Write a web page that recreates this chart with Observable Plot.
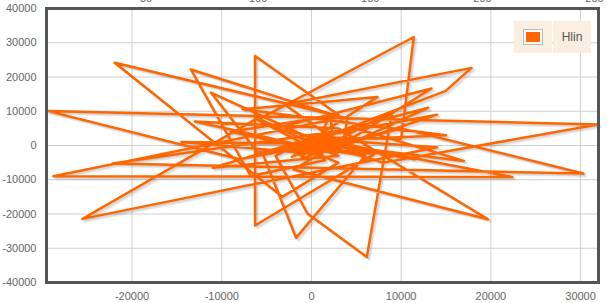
<!DOCTYPE html>
<html>
<head>
<meta charset="utf-8">
<script src="https://cdn.jsdelivr.net/npm/d3@7"></script>
<script src="https://cdn.jsdelivr.net/npm/@observablehq/plot@0.6"></script>
<style>
  html, body { margin: 0; padding: 0; background: #fff; }
  #wrap { position: relative; width: 607px; height: 303px; overflow: hidden; }
  #legend { position: absolute; left: 514px; top: 21px; display: flex; gap: 1px; font-family: "Liberation Sans", Arial, sans-serif; }
  #legend .cell { background: #faeee1; height: 32px; display: flex; align-items: center; justify-content: center; }
  #legend .sw { width: 38px; }
  #legend .lb { width: 38px; font-size: 12px; color: #555; }
  #legend .box { width: 14px; height: 10px; border: 2px solid #fff; outline: 1px solid #bbb; background: #ff6600; box-sizing: content-box; }
</style>
</head>
<body>
<div id="wrap"></div>
<script>
const seriesName = "Hlin";
const xValues = [
  500, 1800, -8000, -29440, 31950, 8000, 2000, -1500, 1200, -14500, 3500, 4000, -21930, -3240, 3000,
  -500, 1800, -2200, 600, 2150, -13450, -6770, 1500, -800, 2600, 13000, 0, -11220, -6000,
  200, 2500, -1000, 3200, -300, 1900, -1700, 2900,
  700, -1800, 2400, 2150, -28770, 22400, 8000, 1000, -2500, -11000, 3000, -6000, -25530, 14000,
  600, -1300, 2200, -600, 3400, 100, 1500,
  300, -1200, 2800, 17000, 5000, -22190, 30320, 10000, 1500, -900, -9000, 3000, -6290, -6290, 7000,
  -2000, 2700, -200, 1100, 2000, -1400,
  800, -5500, -1720, 6000, 2000, 14000, -400, -4000, -450, 6170, 9000, 1200, -1600, -13000, 3000, 19690, -2000,
  3100, 400, -900, 2300, 800, -1900, 1700,
  1000, 2200, -3000, 17840, 14970, -2000, 1600, 11500, -4000, 13380, 2000, -300, -6000, 11410, 10000,
  -100, 2600, 500, 15000, -7690, 7360, -1000, 1400, 300, 2100, -700, 1300
];
const yValues = [
  -600, 800, -4000, 10100, 6130, -5000, -300, 1200, -2600, 1000, 400, 8000, 24170, -15000, -5000,
  -1300, 1400, -3300, 600, 9250, 22190, -8930, -4300, 800, -1400, 11000, 2000, 15470, -2000,
  -900, 1000, 100, -1200, -2500, 2300, -1000, -2100,
  0, -2400, 1200, 7470, -8960, -9170, -2000, -1300, 200, -6500, -3000, 8000, -21430, -500,
  1900, -2900, 300, 1300, -300, -2000, 1800,
  1700, -4000, 0, -4500, 5000, -5260, -8180, 5000, -1100, -500, 4000, 9000, 26160, -23360, -2500,
  -400, -1100, 700, -3000, 2600, -1500,
  1100, -2000, -26980, -3000, -1400, 9000, 2000, -3000, -19850, -32530, 10000, -800, 400, 7000, 5000, -21520, -7000,
  900, -500, 2100, -2400, 400, 900, -1700,
  -2100, 2400, 12000, 22660, 15940, -1000, 200, -4000, 5000, 16640, -2000, -200, 7500, 31680, 2000,
  2400, -700, 1400, 3000, 10600, 14190, 0, 800, -100, 1500, 600, -1200
];
const xTicks = [-20000, -10000, 0, 10000, 20000, 30000];
const yTicks = [-40000, -30000, -20000, -10000, 0, 10000, 20000, 30000, 40000];
const topTickLabels = [50, 100, 150, 200, 250];
const xDomain = [-29540, 32000];
const x2Domain = [5.6, 251.8];
const yDomain = [-40000, 40000];

const data = xValues.map((x, i) => ({px: x, py: yValues[i]}));
const toX = v => xDomain[0] + (v - x2Domain[0]) / (x2Domain[1] - x2Domain[0]) * (xDomain[1] - xDomain[0]);
const orange = "#ff6600";

const shadows = [0.9, 1.8, 2.7].map(o =>
  Plot.line(data, {x: "px", y: "py", stroke: "#000", strokeOpacity: 0.07, strokeWidth: 2.5, dx: o, dy: o})
);

const chart = Plot.plot({
  width: 607, height: 303,
  marginLeft: 46, marginRight: 9, marginTop: 8, marginBottom: 21,
  x: {domain: xDomain, label: null},
  y: {domain: yDomain, label: null},
  style: {fontFamily: "'Liberation Sans', Arial, sans-serif", fontSize: "11px", color: "#666", background: "#fff"},
  marks: [
    Plot.gridX(xTicks, {stroke: "#cfcfcf", strokeOpacity: 1}),
    Plot.gridY(yTicks, {stroke: "#cfcfcf", strokeOpacity: 1}),
    ...shadows,
    Plot.line(data, {x: "px", y: "py", stroke: orange, strokeWidth: 2.5}),
    Plot.axisY(yTicks, {tickSize: 0, tickPadding: 10, tickFormat: d => String(d)}),
    Plot.axisX(xTicks, {anchor: "bottom", tickSize: 0, tickPadding: 10, tickFormat: d => String(d)}),
    Plot.text(topTickLabels, {x: d => toX(d), text: d => String(d), frameAnchor: "top", lineAnchor: "bottom", dy: -7, fill: "#666"}),
    Plot.frame({stroke: "#555", strokeWidth: 3})
  ]
});
const wrap = document.getElementById("wrap");
wrap.appendChild(chart);
const legend = document.createElement("div");
legend.id = "legend";
legend.innerHTML = '<div class="cell sw"><div class="box"></div></div><div class="cell lb">' + seriesName + '</div>';
wrap.appendChild(legend);
</script>
</body>
</html>
